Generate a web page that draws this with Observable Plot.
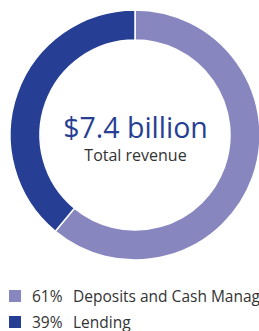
<!DOCTYPE html>
<html>
<head>
<meta charset="utf-8">
<script src="https://cdn.jsdelivr.net/npm/d3@7"></script>
<script src="https://cdn.jsdelivr.net/npm/@observablehq/plot@0.6"></script>
<style>
  html, body { margin: 0; padding: 0; background: #fff; }
  body { width: 259px; height: 331px; overflow: hidden; position: relative; font-family: "Open Sans", sans-serif; }
  #legend { position: absolute; left: 0; top: 283px; width: 259px; overflow: hidden; white-space: nowrap; }
  .row { display: flex; align-items: center; height: 26px; font-size: 15.5px; color: #333; }
  .sw { width: 12px; height: 12px; margin-left: 9px; flex: none; }
  .pct { margin-left: 11px; width: 41px; flex: none; }
</style>
</head>
<body>
<div id="chart"></div>
<div id="legend"></div>
<script>
const categories = ["Deposits and Cash Management", "Lending"];
const shares = [61, 39];
const colors = ["#8886bf", "#263e93"];
const totalLabel = "$7.4 billion";
const subLabel = "Total revenue";

const data = categories.map((c, i) => ({category: c, share: shares[i]}));

const donut = (index, scales, values, dimensions) => {
  const cx = 135, cy = 135;
  const pie = d3.pie().sort(null).value(d => d.share)(data);
  const arc = d3.arc().innerRadius(95).outerRadius(125);
  const g = d3.create("svg:g").attr("transform", `translate(${cx},${cy})`);
  g.selectAll("path").data(pie).join("path")
    .attr("d", arc)
    .attr("fill", (d, i) => colors[i])
    .attr("stroke", "#fff")
    .attr("stroke-width", 1.5);
  return g.node();
};

const chart = Plot.plot({
  width: 259,
  height: 280,
  margin: 0,
  x: {domain: [0, 259], axis: null},
  y: {domain: [0, 280], axis: null, reverse: true},
  style: {fontFamily: "Open Sans, sans-serif", background: "#fff", overflow: "visible"},
  marks: [
    donut,
    Plot.text([totalLabel], {x: () => 135, y: () => 137, text: d => d, fontSize: 28.5, fill: "#263e93", lineAnchor: "bottom"}),
    Plot.text([subLabel], {x: () => 135, y: () => 160, text: d => d, fontSize: 16, fill: "#333", lineAnchor: "bottom"})
  ]
});
document.getElementById("chart").appendChild(chart);

const legend = d3.select("#legend");
data.forEach((d, i) => {
  const row = legend.append("div").attr("class", "row");
  row.append("div").attr("class", "sw").style("background", colors[i]);
  row.append("span").attr("class", "pct").text(`${d.share}%`);
  row.append("span").text(d.category);
});
</script>
</body>
</html>
